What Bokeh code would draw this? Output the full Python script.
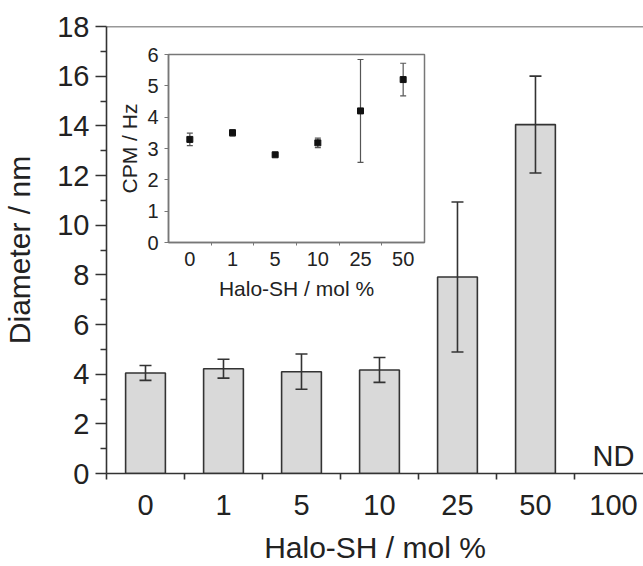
from bokeh.plotting import figure
from bokeh.models import (ColumnDataSource, Range1d, FixedTicker, Whisker, TeeHead, Span, Column)
from bokeh.core.properties import value
from bokeh.embed import file_html
from bokeh.resources import INLINE

# ---- data ----
categories = ["0", "1", "5", "10", "25", "50", "100"]
diameter = [4.05, 4.22, 4.10, 4.17, 7.91, 14.05]
diameter_err = [0.30, 0.38, 0.71, 0.50, 3.02, 1.95]
nd_label = ["ND"]
nd_y = [0.72]

inset_categories = ["0", "1", "5", "10", "25", "50"]
cpm = [3.29, 3.50, 2.80, 3.18, 4.20, 5.20]
cpm_err = [0.20, 0.10, 0.03, 0.15, 1.64, 0.52]

FONT = "Liberation Sans"
DARK = "#333333"

# ---- main figure ----
xpos = list(range(len(diameter)))
src = ColumnDataSource(dict(
    x=xpos, top=diameter,
    upper=[d + e for d, e in zip(diameter, diameter_err)],
    lower=[d - e for d, e in zip(diameter, diameter_err)],
))

p = figure(width=643, height=566, output_backend="svg", toolbar_location=None,
           x_range=Range1d(-0.5, 6.385), y_range=Range1d(0, 18),
           min_border_left=106, min_border_right=0, min_border_top=26,
           min_border_bottom=93)
p.frame_align = False
p.outline_line_color = None
p.grid.visible = False
p.background_fill_color = "white"
p.border_fill_color = "white"

p.vbar(x="x", top="top", bottom=0, width=0.51, source=src,
       fill_color="#d9d9d9", line_color=DARK, line_width=1.6)
w = Whisker(base="x", upper="upper", lower="lower", source=src, level="overlay",
            line_color=DARK, line_width=1.6,
            upper_head=TeeHead(size=12, line_color=DARK, line_width=1.6),
            lower_head=TeeHead(size=12, line_color=DARK, line_width=1.6))
p.add_layout(w)

p.text(x=[len(categories) - 1], y=nd_y, text=nd_label, text_align="center",
       text_baseline="alphabetic", text_font=value(FONT),
       text_font_size="29px", text_color="#222222")

p.add_layout(Span(location=18, dimension="width", line_color=DARK, line_width=1.6))

xa = p.xaxis[0]
xa.ticker = FixedTicker(ticks=list(range(len(categories))),
                        minor_ticks=[i - 0.5 for i in range(len(categories))])
xa.major_label_overrides = {i: c for i, c in enumerate(categories)}
xa.major_tick_out = 0
xa.major_tick_in = 0
xa.minor_tick_out = 6
xa.minor_tick_in = 0
xa.minor_tick_line_color = DARK
xa.minor_tick_line_width = 1.6
xa.axis_line_color = DARK
xa.axis_line_width = 1.6
xa.major_label_standoff = 15
xa.major_label_text_font = FONT
xa.major_label_text_font_size = "29px"
xa.major_label_text_color = "#222222"
xa.axis_label = "Halo-SH / mol %"
xa.axis_label_text_font = FONT
xa.axis_label_text_font_size = "30px"
xa.axis_label_text_font_style = "normal"
xa.axis_label_text_color = "#222222"
xa.axis_label_standoff = 13

ya = p.yaxis[0]
ya.ticker = FixedTicker(ticks=list(range(0, 19, 2)), minor_ticks=list(range(1, 18, 2)))
ya.major_tick_out = 11
ya.major_tick_in = 0
ya.minor_tick_out = 6
ya.minor_tick_in = 0
ya.major_tick_line_color = DARK
ya.minor_tick_line_color = DARK
ya.major_tick_line_width = 1.6
ya.minor_tick_line_width = 1.6
ya.axis_line_color = DARK
ya.axis_line_width = 1.6
ya.major_label_standoff = 6
ya.major_label_text_font = FONT
ya.major_label_text_font_size = "29px"
ya.major_label_text_color = "#222222"
ya.axis_label = "Diameter / nm"
ya.axis_label_text_font = FONT
ya.axis_label_text_font_size = "30px"
ya.axis_label_text_font_style = "normal"
ya.axis_label_text_color = "#222222"
ya.axis_label_standoff = 18

# ---- inset figure ----
GRAY = "#777777"
ixpos = [i + 0.5 for i in range(len(cpm))]
isrc = ColumnDataSource(dict(
    x=ixpos, y=cpm,
    upper=[c + e for c, e in zip(cpm, cpm_err)],
    lower=[c - e for c, e in zip(cpm, cpm_err)],
))

q = figure(width=321, height=262, output_backend="svg", toolbar_location=None,
           x_range=Range1d(0, 6), y_range=Range1d(0, 6),
           min_border_left=60, min_border_right=5, min_border_top=12,
           min_border_bottom=62)
q.frame_align = False
q.grid.visible = False
q.outline_line_color = GRAY
q.outline_line_width = 1.5
q.background_fill_color = "white"
q.border_fill_alpha = 0
q.styles = {"position": "absolute", "left": "108px", "top": "42px"}

iw = Whisker(base="x", upper="upper", lower="lower", source=isrc,
             line_color="#555555", line_width=1.2,
             upper_head=TeeHead(size=6, line_color="#555555", line_width=1.2),
             lower_head=TeeHead(size=6, line_color="#555555", line_width=1.2))
q.add_layout(iw)
q.scatter(x="x", y="y", source=isrc, marker="square", size=6,
          fill_color="#111111", line_color="#111111")

qx = q.xaxis[0]
qx.ticker = FixedTicker(ticks=ixpos, minor_ticks=list(range(1, len(cpm))))
qx.major_label_overrides = {x: c for x, c in zip(ixpos, inset_categories)}
qx.major_tick_out = 0
qx.major_tick_in = 0
qx.minor_tick_out = 3
qx.minor_tick_in = 0
qx.minor_tick_line_color = GRAY
qx.axis_line_color = GRAY
qx.axis_line_width = 1.5
qx.major_label_standoff = 6
qx.major_label_text_font = FONT
qx.major_label_text_font_size = "20px"
qx.major_label_text_color = "#222222"
qx.axis_label = "Halo-SH / mol %"
qx.axis_label_text_font = FONT
qx.axis_label_text_font_size = "21px"
qx.axis_label_text_font_style = "normal"
qx.axis_label_text_color = "#222222"
qx.axis_label_standoff = 8

qy = q.yaxis[0]
qy.ticker = FixedTicker(ticks=list(range(0, 7)))
qy.major_tick_out = 4
qy.major_tick_in = 0
qy.minor_tick_out = 0
qy.minor_tick_in = 0
qy.major_tick_line_color = GRAY
qy.axis_line_color = GRAY
qy.axis_line_width = 1.5
qy.major_label_standoff = 6
qy.major_label_text_font = FONT
qy.major_label_text_font_size = "20px"
qy.major_label_text_color = "#222222"
qy.axis_label = "CPM / Hz"
qy.axis_label_text_font = FONT
qy.axis_label_text_font_size = "21px"
qy.axis_label_text_font_style = "normal"
qy.axis_label_text_color = "#222222"
qy.axis_label_standoff = 3

layout = Column(p, q)

open("out.html", "w").write(file_html(layout, INLINE))
